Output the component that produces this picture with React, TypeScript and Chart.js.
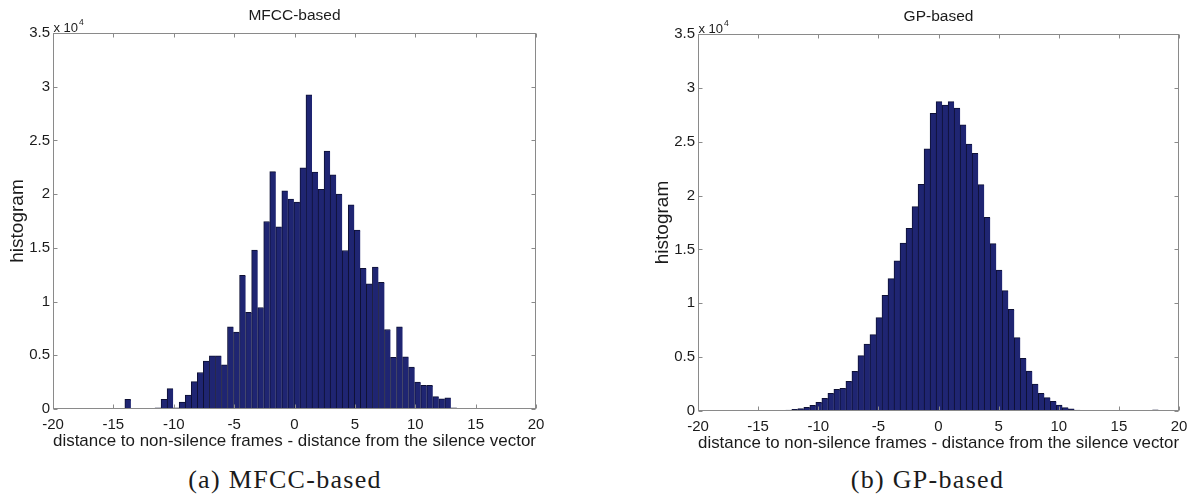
import React, { useEffect, useRef } from 'react';
import { Chart, registerables } from 'chart.js';

Chart.register(...registerables);

// ---- data ----
const mfccBinCenters = [
  -13.8, -11.3, -10.8, -10.3, -9.8, -9.3, -8.8, -8.3, -7.8, -7.3, -6.8, -6.3, -5.8,
  -5.3, -4.8, -4.3, -3.8, -3.3, -2.8, -2.3, -1.8, -1.3, -0.8, -0.3, 0.2, 0.7, 1.2,
  1.7, 2.2, 2.7, 3.2, 3.7, 4.2, 4.7, 5.2, 5.7, 6.2, 6.7, 7.2, 7.7, 8.2, 8.7, 9.2,
  9.7, 10.2, 10.7, 11.2, 11.7, 12.2, 12.7, 13.2,
];
const mfccCounts = [
  900, 100, 900, 1900, 100, 650, 1300, 2550, 3400, 4450, 4950, 4950, 4100,
  7650, 7150, 12450, 9000, 14800, 9450, 17450, 22100, 16950, 20300, 19550, 19250, 22450, 29250,
  22050, 20450, 24000, 21800, 20000, 14750, 19000, 16650, 13100, 11650, 13200, 11800, 7400, 4800, 7650, 4850,
  3900, 2500, 2200, 2200, 1150, 950, 1050, 100,
];

const gpBinCenters = [
  -16.45, -15.45, -14.95, -14.45, -13.95, -13.45, -12.95, -12.45, -11.95, -11.45, -10.95, -10.45,
  -9.95, -9.45, -8.95, -8.45, -7.95, -7.45, -6.95, -6.45, -5.95, -5.45, -4.95, -4.45,
  -3.95, -3.45, -2.95, -2.45, -1.95, -1.45, -0.95, -0.45, 0.05, 0.55, 1.05, 1.55,
  2.05, 2.55, 3.05, 3.55, 4.05, 4.55, 5.05, 5.55, 6.05, 6.55, 7.05, 7.55,
  8.05, 8.55, 9.05, 9.55, 10.05, 10.55, 11.05, 11.55, 12.05, 12.55, 13.05, 13.55,
  14.05, 14.55, 15.05, 15.55, 16.05, 16.55, 17.05, 17.55, 18.05, 18.55,
];
const gpCounts = [
  60, 20, 20, 25, 30, 40, 50, 90, 150, 220, 340, 530,
  800, 1180, 1640, 2010, 2100, 2750, 3680, 5140, 6220, 7090, 8670, 10740,
  12290, 13930, 15600, 16960, 18970, 21050, 24330, 27640, 28720, 28410, 28720, 28130,
  26560, 24790, 23920, 21010, 17980, 15540, 13090, 11170, 9440, 6810, 4890, 3710,
  2510, 1640, 1240, 900, 560, 310, 190, 90, 40, 30, 25, 20,
  20, 15, 15, 10, 10, 10, 10, 15, 120, 10,
];

const xTickValues = [-20, -15, -10, -5, 0, 5, 10, 15, 20];
const yTickValues = [0, 5000, 10000, 15000, 20000, 25000, 30000, 35000];
const xAxisLabel = 'distance to non-silence frames - distance from the silence vector';
const yAxisLabel = 'histogram';
const exponentBase = 'x 10';
const exponentPower = '4';

const SANS = '"Liberation Sans", Arial, Helvetica, sans-serif';
const TEXT = '#1b1b1b';
const FRAME = '#8a8a8a';

const matlabFrame = {
  id: 'matlabFrame',
  afterDatasetsDraw(chart: any, _args: any, opts: any) {
    const { ctx, chartArea: a, scales } = chart;
    const x = scales.x;
    const y = scales.y;
    ctx.save();
    ctx.strokeStyle = FRAME;
    ctx.lineWidth = 1;
    const l = Math.round(a.left) + 0.5;
    const r = Math.round(a.right) - 0.5;
    const t = Math.round(a.top) + 0.5;
    const b = Math.round(a.bottom) - 0.5;
    ctx.strokeRect(l, t, r - l, b - t);
    const tl = 4;
    ctx.beginPath();
    for (const v of xTickValues) {
      const px = Math.round(x.getPixelForValue(v)) + 0.5;
      ctx.moveTo(px, b);
      ctx.lineTo(px, b - tl);
      ctx.moveTo(px, t);
      ctx.lineTo(px, t + tl);
    }
    for (const v of yTickValues) {
      const py = Math.round(y.getPixelForValue(v)) + 0.5;
      ctx.moveTo(l, py);
      ctx.lineTo(l + tl, py);
      ctx.moveTo(r, py);
      ctx.lineTo(r - tl, py);
    }
    ctx.stroke();

    ctx.fillStyle = TEXT;
    ctx.textBaseline = 'alphabetic';
    ctx.textAlign = 'center';
    ctx.font = `15.5px ${SANS}`;
    ctx.fillText(opts.title, (a.left + a.right) / 2, a.top - 13.5);

    ctx.textAlign = 'left';
    ctx.font = `13px ${SANS}`;
    ctx.fillText(exponentBase, a.left + 0.5, a.top - 1.5);
    const w = ctx.measureText(exponentBase).width;
    ctx.font = `8.5px ${SANS}`;
    ctx.fillText(exponentPower, a.left + 1.5 + w, a.top - 8.5);
    ctx.restore();
  },
};

type HistProps = {
  centers: number[];
  counts: number[];
  title: string;
  left: number;
  top: number;
  width: number;
  height: number;
  padLeft: number;
  padRight: number;
  xAxisHeight: number;
  xTitlePad: number;
};

function Histogram(p: HistProps) {
  const ref = useRef<HTMLCanvasElement>(null);
  useEffect(() => {
    const chart = new Chart(ref.current as HTMLCanvasElement, {
      type: 'bar',
      data: {
        datasets: [
          {
            data: p.centers.map((c, i) => ({ x: c, y: p.counts[i] })),
            backgroundColor: 'rgb(31,37,114)',
            borderColor: 'rgb(14,16,52)',
            borderWidth: { top: 1, left: 1, right: 0, bottom: 0 },
            borderSkipped: false,
            barPercentage: 1,
            categoryPercentage: 1,
          } as any,
        ],
      },
      options: {
        animation: false,
        responsive: false,
        maintainAspectRatio: false,
        layout: { padding: { left: p.padLeft, right: p.padRight, top: 33, bottom: 0 } },
        plugins: {
          legend: { display: false },
          tooltip: { enabled: false },
          title: { display: false },
          matlabFrame: { title: p.title },
        } as any,
        scales: {
          x: {
            type: 'linear',
            min: -20,
            max: 20,
            offset: false,
            grid: { display: false, drawTicks: false },
            border: { display: false },
            ticks: {
              stepSize: 5,
              padding: 7,
              color: TEXT,
              maxRotation: 0,
              autoSkip: false,
              font: { family: SANS, size: 15 },
              callback: (v: any) => String(v),
            },
            title: {
              display: true,
              text: xAxisLabel,
              color: TEXT,
              font: { family: SANS, size: 17, lineHeight: 1 },
              padding: { top: 0, bottom: p.xTitlePad },
            },
            afterFit: (s: any) => {
              s.height = p.xAxisHeight;
            },
          },
          y: {
            min: 0,
            max: 35000,
            grid: { display: false, drawTicks: false },
            border: { display: false },
            ticks: {
              stepSize: 5000,
              padding: 3,
              color: TEXT,
              font: { family: SANS, size: 15 },
              callback: (v: any) => String(Number(v) / 10000),
            },
            title: {
              display: true,
              text: yAxisLabel,
              color: TEXT,
              font: { family: SANS, size: 19, lineHeight: 1 },
              padding: 0,
            },
            afterFit: (s: any) => {
              s.width = 45;
            },
          },
        } as any,
      },
      plugins: [matlabFrame as any],
    });
    return () => chart.destroy();
  }, []);
  return (
    <canvas
      ref={ref}
      width={p.width}
      height={p.height}
      style={{ position: 'absolute', left: p.left, top: p.top, width: p.width, height: p.height }}
    />
  );
}

const captionStyle: React.CSSProperties = {
  position: 'absolute',
  top: 467,
  width: 240,
  textAlign: 'center',
  fontFamily: '"Liberation Serif", "Times New Roman", serif',
  fontSize: 26,
  lineHeight: '26px',
  letterSpacing: '1.3px',
  color: '#1b1b1b',
  whiteSpace: 'nowrap',
};

export default function App() {
  return (
    <div
      style={{
        position: 'absolute',
        left: 0,
        top: 0,
        width: 1195,
        height: 501,
        background: '#ffffff',
        overflow: 'hidden',
      }}
    >
      <Histogram
        centers={mfccBinCenters}
        counts={mfccCounts}
        title="MFCC-based"
        left={0}
        top={0}
        width={597}
        height={460}
        padLeft={8}
        padRight={61}
        xAxisHeight={51}
        xTitlePad={10}
      />
      <Histogram
        centers={gpBinCenters}
        counts={gpCounts}
        title="GP-based"
        left={597}
        top={1}
        width={598}
        height={460}
        padLeft={56}
        padRight={16}
        xAxisHeight={50}
        xTitlePad={9}
      />
      <div style={{ ...captionStyle, left: 285 - 120 }}>(a) MFCC-based</div>
      <div style={{ ...captionStyle, left: 927.5 - 120 }}>(b) GP-based</div>
    </div>
  );
}
